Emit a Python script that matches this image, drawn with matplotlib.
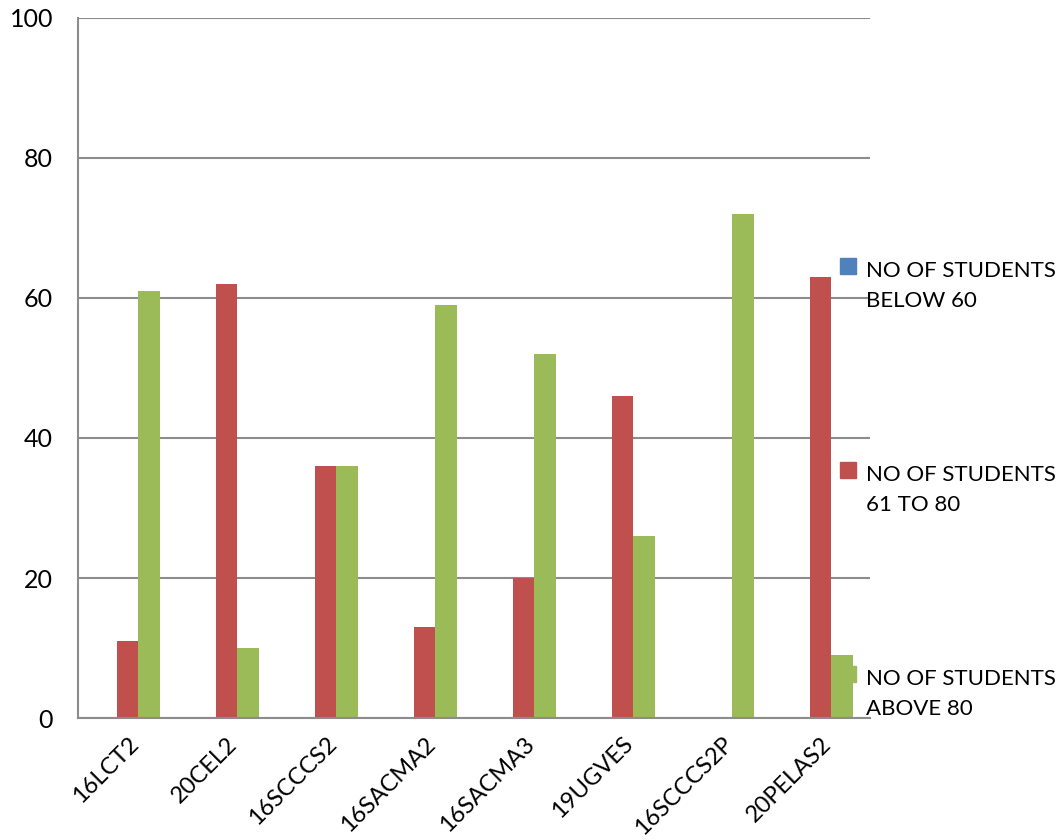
import matplotlib
matplotlib.use("Agg")
import matplotlib.pyplot as plt
import matplotlib.patches as mpatches
from matplotlib.legend_handler import HandlerPatch
import numpy as np

plt.rcParams['font.family'] = ['Lato', 'DejaVu Sans']

categories = ["16LCT2", "20CEL2", "16SCCCS2", "16SACMA2", "16SACMA3", "19UGVES", "16SCCCS2P", "20PELAS2"]
below_60 = [0, 0, 0, 0, 0, 0, 0, 0]
s61_to_80 = [11, 62, 36, 13, 20, 46, 0, 63]
above_80 = [61, 10, 36, 59, 52, 26, 72, 9]
series_names = ["NO OF STUDENTS\nBELOW 60", "NO OF STUDENTS\n61 TO 80", "NO OF STUDENTS\nABOVE 80"]
colors = ["#4F81BD", "#C0504D", "#9BBB59"]
yticks = [0, 20, 40, 60, 80, 100]

fig = plt.figure(figsize=(10.6, 8.4), dpi=100)
ax = fig.add_axes([78/1060, 1-718/840, (870-78)/1060, (718-18)/840])

x = np.arange(len(categories))
w = 0.218
for i, (vals, c, name) in enumerate(zip([below_60, s61_to_80, above_80], colors, series_names)):
    ax.bar(x + (i-1)*w, vals, width=w, color=c, label=name, zorder=3)

ax.set_xlim(-0.5, len(categories)-0.5)
ax.set_ylim(0, 100)
ax.set_yticks(yticks)
ax.yaxis.grid(True, color="#8c8c8c", linewidth=1.5, zorder=0)
ax.set_axisbelow(True)
for s in ["top", "right"]:
    ax.spines[s].set_visible(False)
for s in ["left", "bottom"]:
    ax.spines[s].set_color("#8c8c8c")
    ax.spines[s].set_linewidth(1.5)
    ax.spines[s].set_zorder(4)
ax.tick_params(axis='y', length=0, pad=18, labelsize=18)
ax.tick_params(axis='x', length=0, pad=11, labelsize=17)
ax.set_xticks(x)
ax.set_xticklabels(categories, rotation=45, ha='right', va='top', rotation_mode='anchor')


def sq(legend, orig_handle, xdescent, ydescent, width, height, fontsize):
    s = 0.72 * fontsize
    return mpatches.Rectangle((width - s - xdescent, height - ydescent + 0.2*fontsize), s, s)

handles = [mpatches.Patch(color=c) for c in colors]
leg = ax.legend(handles, series_names, loc='upper left', bbox_to_anchor=(838/1060, 1-261/840),
                bbox_transform=fig.transFigure, frameon=False, fontsize=16,
                labelspacing=6.95, handlelength=0.8, handletextpad=0.45,
                handler_map={mpatches.Patch: HandlerPatch(patch_func=sq)},
                borderpad=0, borderaxespad=0)
for t in leg.get_texts():
    t.set_linespacing(1.6)

fig.savefig("out.png", dpi=100)
